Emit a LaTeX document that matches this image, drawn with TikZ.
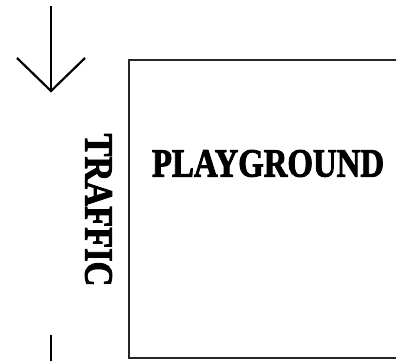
\documentclass[tikz,border=0pt]{standalone}
\usepackage{fontspec}
\setmainfont{Liberation Serif}
\newfontfamily\heavyfont[FakeBold=2.5]{Liberation Serif Bold}
\tikzset{
  edge/.style={line width=1.5pt, draw=black!85},
  arrowline/.style={line width=2.2pt, draw=black},
  label/.style={font=\heavyfont\fontsize{40}{40}\selectfont, inner sep=0pt, text=black}
}
\begin{document}
\begin{tikzpicture}[x=1pt,y=1pt]
\useasboundingbox (0,0) rectangle (396,360);
\clip (0,0) rectangle (396,360);
% playground box (open to the right edge)
\coordinate (tr) at (400,300);
\coordinate (tl) at (129,300);
\coordinate (bl) at (129,2);
\coordinate (br) at (400,2);
\draw[edge] (tr) -- (tl) -- (bl) -- (br);
\node[label] (pg) at (268,196.5) {\scalebox{0.82}[1]{PLAYGROUND}};
\node[label, rotate=-90] (tf) at (98.5,150) {\scalebox{0.86}[1]{TRAFFIC}};
% traffic arrow
\coordinate (a0) at (51,354);
\coordinate (a1) at (51,269);
\coordinate (hl) at (17,302);
\coordinate (hr) at (85,302);
\draw[arrowline] (a0) -- (a1);
\draw[arrowline, line join=miter] (hl) -- (a1) -- (hr);
\coordinate (b0) at (51,25);
\coordinate (b1) at (51,-2);
\draw[arrowline] (b0) -- (b1);
\end{tikzpicture}
\end{document}
